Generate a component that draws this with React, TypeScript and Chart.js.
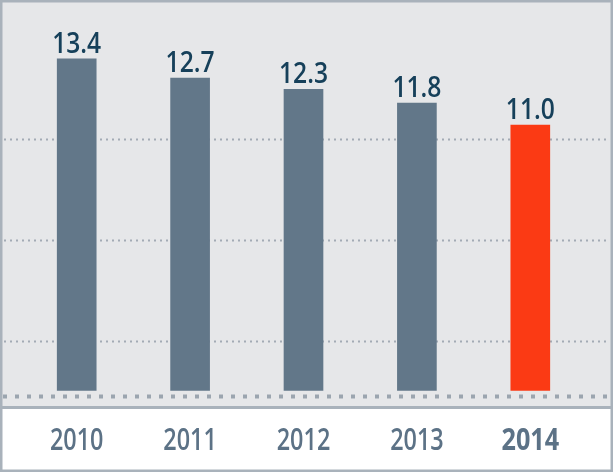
import React, { useEffect, useRef } from 'react';
import Chart from 'chart.js/auto';

const years = ['2010', '2011', '2012', '2013', '2014'];
const values = [13.4, 12.7, 12.3, 11.8, 11.0];
const barColors = ['#627789', '#627789', '#627789', '#627789', '#fb3a14'];
const boldYears = ['2014'];
// dotted guide lines (value positions on the cropped y scale)
const gridValues = [3.18, 6.84, 10.5];

const BORDER = '#a9b2bb';
const PANEL = '#e6e7e9';

const decorPlugin = {
  id: 'decor',
  beforeDraw(chart: any) {
    const { ctx, width, height } = chart;
    const y = chart.scales.y;
    ctx.save();
    ctx.fillStyle = '#ffffff';
    ctx.fillRect(0, 0, width, height);
    ctx.fillStyle = PANEL;
    ctx.fillRect(0, 0, width, 407);

    // dotted grid lines
    ctx.strokeStyle = '#a3abb5';
    ctx.lineWidth = 2;
    ctx.setLineDash([2, 4]);
    gridValues.forEach((v) => {
      const py = Math.round(y.getPixelForValue(v)) + 0.5;
      ctx.beginPath();
      ctx.moveTo(4, py);
      ctx.lineTo(width - 4, py);
      ctx.stroke();
    });

    // heavier dotted base line
    ctx.strokeStyle = '#9ba5af';
    ctx.lineWidth = 4;
    ctx.setLineDash([4, 8]);
    ctx.beginPath();
    ctx.moveTo(3, 396.5);
    ctx.lineTo(width - 3, 396.5);
    ctx.stroke();
    ctx.setLineDash([]);

    // separator and frame
    ctx.fillStyle = BORDER;
    ctx.fillRect(0, 406, width, 3);
    ctx.strokeStyle = BORDER;
    ctx.lineWidth = 2.5;
    ctx.strokeRect(1.25, 1.25, width - 2.5, height - 2.5);
    ctx.restore();
  },
  afterDatasetsDraw(chart: any) {
    const { ctx } = chart;
    const meta = chart.getDatasetMeta(0);
    const xScale = chart.scales.x;
    ctx.save();
    ctx.textAlign = 'center';
    ctx.textBaseline = 'alphabetic';

    // value labels above bars
    ctx.fillStyle = '#16405a';
    ctx.font = '600 28px "Open Sans", sans-serif';
    meta.data.forEach((bar: any, i: number) => {
      ctx.save();
      ctx.translate(bar.x, bar.y - 6);
      ctx.scale(0.88, 1);
      ctx.fillText(values[i].toFixed(1), 0, 0);
      ctx.restore();
    });

    // category labels in the white strip
    ctx.fillStyle = '#5c7286';
    years.forEach((yr, i) => {
      const bold = boldYears.includes(yr);
      ctx.font = (bold ? '700 ' : '600 ') + '30px "Open Sans", sans-serif';
      ctx.save();
      ctx.translate(xScale.getPixelForValue(i), 450);
      ctx.scale(bold ? 0.84 : 0.78, 1);
      ctx.fillText(yr, 0, 0);
      ctx.restore();
    });
    ctx.restore();
  },
};

const App: React.FC = () => {
  const canvasRef = useRef<HTMLCanvasElement | null>(null);
  const chartRef = useRef<Chart | null>(null);

  useEffect(() => {
    if (!canvasRef.current) return;
    if (chartRef.current) chartRef.current.destroy();

    chartRef.current = new Chart(canvasRef.current, {
      type: 'bar',
      data: {
        labels: years,
        datasets: [
          {
            data: values,
            backgroundColor: barColors,
            barThickness: 39,
            borderWidth: 0,
          },
        ],
      },
      options: {
        animation: false,
        responsive: true,
        maintainAspectRatio: false,
        layout: { padding: { left: 20, right: 26, top: 20, bottom: 81.3 } },
        plugins: { legend: { display: false }, tooltip: { enabled: false } },
        scales: {
          x: { display: false, offset: true },
          y: { display: false, min: 1.37, max: 14.81 },
        },
      },
      plugins: [decorPlugin],
    });

    return () => {
      if (chartRef.current) {
        chartRef.current.destroy();
        chartRef.current = null;
      }
    };
  }, []);

  return (
    <div style={{ position: 'absolute', left: 0, top: 0, width: 613, height: 472 }}>
      <canvas ref={canvasRef}></canvas>
    </div>
  );
};

export default App;
